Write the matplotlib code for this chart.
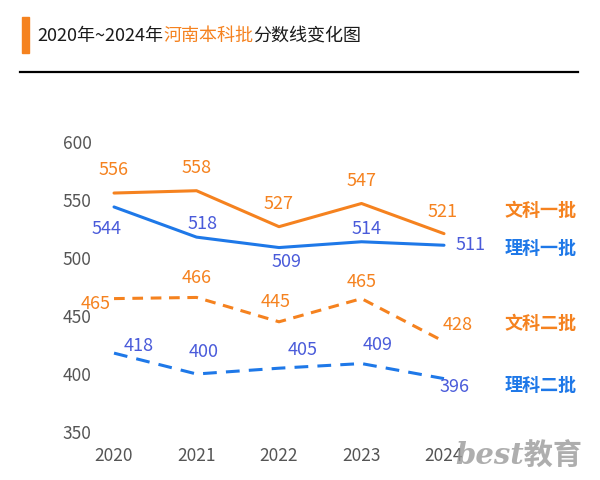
import matplotlib.pyplot as plt
from matplotlib.patches import Rectangle
from matplotlib.lines import Line2D

plt.rcParams['font.family'] = ['Noto Sans CJK SC', 'DejaVu Sans']

# 数据
years = [2020, 2021, 2022, 2023, 2024]
wen1 = [556, 558, 527, 547, 521]   # 文科一批
li1 = [544, 518, 509, 514, 511]    # 理科一批
wen2 = [465, 466, 445, 465, 428]   # 文科二批
li2 = [418, 400, 405, 409, 396]    # 理科二批
names = ['文科一批', '理科一批', '文科二批', '理科二批']

orange = '#F5821F'
blue = '#1E78E8'
blue_txt = '#4A5BDA'

fig = plt.figure(figsize=(6, 4.8), dpi=100)
ax = fig.add_axes([100/600, 48/480, 360/600, 290/480])

ax.plot(years, wen1, color=orange, lw=2.2, solid_capstyle='round')
ax.plot(years, li1, color=blue, lw=2.2, solid_capstyle='round')
ax.plot(years, wen2, color=orange, lw=2.2, linestyle=(0, (3.5, 2.5)))
ax.plot(years, li2, color=blue, lw=2.2, linestyle=(0, (4.5, 3)))

ax.set_xlim(2019.83, 2024.194)
ax.set_ylim(350, 600)
ax.set_xticks(years)
ax.set_yticks([350, 400, 450, 500, 550, 600])
ax.tick_params(length=0, labelsize=12.5, colors='#555555', pad=6)
ax.tick_params(axis='x', pad=11)
for s in ax.spines.values():
    s.set_visible(False)

# 数据标签偏移 (像素, 向上为正)
off_wen1 = [(0, 23), (0, 23), (0, 23), (0, 22), (-1, 22)]
off_li1 = [(-7, -22), (6, 13), (8, -14), (5, 13), (27, 0)]
off_wen2 = [(-18, -5), (0, 19), (-3, 20), (0, 17), (14, 17)]
off_li2 = [(25, 7), (7, 22), (24, 18), (16, 19), (11, -8)]

def labels(vals, offs, color):
    for x, v, (dx, dy) in zip(years, vals, offs):
        ax.annotate(str(v), xy=(x, v), xytext=(dx / 1.389, dy / 1.389),
                    textcoords='offset points', ha='center', va='center',
                    fontsize=13, color=color)

labels(wen1, off_wen1, orange)
labels(li1, off_li1, blue_txt)
labels(wen2, off_wen2, orange)
labels(li2, off_li2, blue_txt)

# 右侧系列名称
name_y = [541.4, 508.6, 443.9, 389.7]
name_c = [orange, blue, orange, blue]
for n, y, c in zip(names, name_y, name_c):
    ax.text(2024.73, y, n, color=c, fontsize=13, fontweight='bold',
            ha='left', va='center', clip_on=False)

# 标题
fig.patches.append(Rectangle((22/600, 1 - 53/480), 7/600, 36/480,
                             transform=fig.transFigure, color=orange))
fig.lines.append(Line2D([20/600, 578/600], [1 - 72/480, 1 - 72/480],
                        transform=fig.transFigure, color='black', lw=1.6))
parts = [('2020年~2024年', '#1a1a1a'), ('河南本科批', orange), ('分数线变化图', '#1a1a1a')]
fig.canvas.draw()
r = fig.canvas.get_renderer()
x = 37/600
for t, c in parts:
    txt = fig.text(x, 1 - 36/480, t, color=c, fontsize=13, ha='left', va='center')
    bb = txt.get_window_extent(renderer=r)
    x += bb.width / 600

# 水印
fig.text(455/600, 1 - 456/480, 'best教育', color='#9a9a9a', fontsize=21,
         fontweight='bold', style='italic', family=['DejaVu Serif', 'Noto Sans CJK SC'],
         ha='left', va='center', alpha=0.8)

fig.savefig('out.png', dpi=100)
